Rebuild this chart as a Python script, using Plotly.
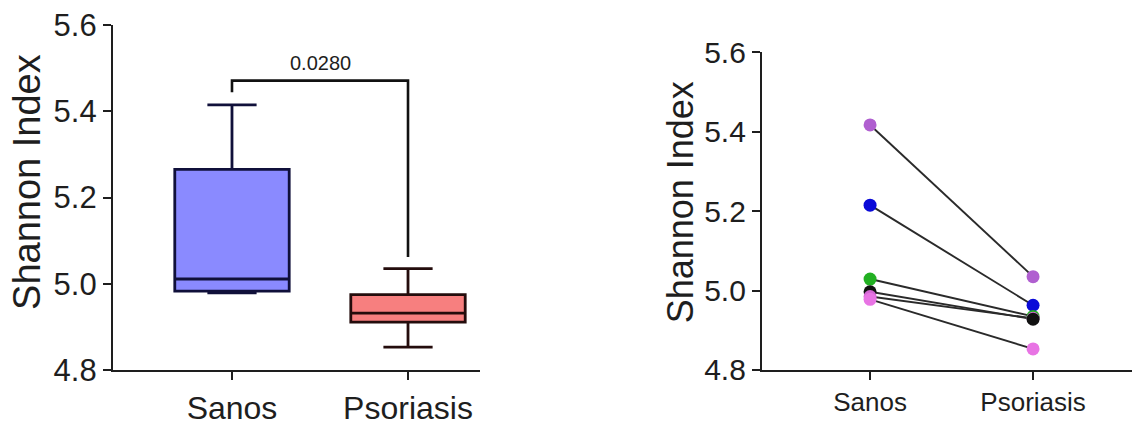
import plotly.graph_objects as go

# ---------------- data ----------------
groups = ["Sanos", "Psoriasis"]

# Box statistics
box_q1 = [4.983, 4.911]
box_median = [5.011, 4.932]
box_q3 = [5.265, 4.975]
box_lower = [4.979, 4.853]
box_upper = [5.415, 5.035]
box_fill = ["#8A8AFF", "#F77F7F"]
box_edge = ["#10103A", "#240C0C"]

# significance bracket
p_text = "0.0280"
bracket_y = [5.444, 5.471, 5.471, 5.062]

# Paired values (right panel)
subjects = ["purple", "blue", "green", "black", "pink", "magenta"]
subject_colors = ["#B05FD0", "#0A0AD8", "#22B022", "#111111", "#D468D4", "#E874E4"]
sanos_vals = [5.417, 5.215, 5.029, 4.997, 4.985, 4.978]
psor_vals = [5.035, 4.963, 4.935, 4.928, 4.930, 4.853]

y_ticks = [4.8, 5.0, 5.2, 5.4, 5.6]
y_title = "Shannon Index"

FONT = "Liberation Sans, Arial, sans-serif"
AX = "#1E1E1E"

fig = go.Figure()

# ---------------- left panel: boxes ----------------
for i, g in enumerate(groups):
    fig.add_trace(go.Box(
        x=[g], q1=[box_q1[i]], median=[box_median[i]], q3=[box_q3[i]],
        lowerfence=[box_lower[i]], upperfence=[box_upper[i]],
        fillcolor=box_fill[i], line=dict(color=box_edge[i], width=2.8),
        width=0.65, whiskerwidth=0.43, boxpoints=False,
        xaxis="x", yaxis="y", showlegend=False, hoverinfo="skip",
    ))

fig.add_trace(go.Scatter(
    x=[groups[0], groups[0], groups[1], groups[1]], y=bracket_y,
    mode="lines", line=dict(color="#111111", width=2.6),
    xaxis="x", yaxis="y", showlegend=False, hoverinfo="skip",
))

# ---------------- right panel: paired points ----------------
for i, s in enumerate(subjects):
    fig.add_trace(go.Scatter(
        x=groups, y=[sanos_vals[i], psor_vals[i]], mode="lines",
        line=dict(color="#2A2A2A", width=1.9),
        xaxis="x2", yaxis="y2", showlegend=False, hoverinfo="skip",
    ))

# markers: Sanos column drawn in subject order, Psoriasis with black on top
order_s = [0, 1, 2, 3, 4, 5]
order_p = [0, 1, 2, 4, 5, 3]
fig.add_trace(go.Scatter(
    x=[groups[0]] * len(order_s), y=[sanos_vals[k] for k in order_s],
    mode="markers", marker=dict(size=13, color=[subject_colors[k] for k in order_s]),
    xaxis="x2", yaxis="y2", showlegend=False, hoverinfo="skip",
))
fig.add_trace(go.Scatter(
    x=[groups[1]] * len(order_p), y=[psor_vals[k] for k in order_p],
    mode="markers", marker=dict(size=13, color=[subject_colors[k] for k in order_p]),
    xaxis="x2", yaxis="y2", showlegend=False, hoverinfo="skip",
))

axis_common = dict(showline=True, linecolor=AX, linewidth=2.2, ticks="outside",
                   ticklen=8, tickwidth=2.2, tickcolor=AX, showgrid=False,
                   zeroline=False, mirror=False)

h_area = 426 - 25 - 47

fig.update_layout(
    width=1132, height=426,
    margin=dict(l=0, r=0, t=25, b=47),
    paper_bgcolor="white", plot_bgcolor="white",
    font=dict(family=FONT, color=AX),
    xaxis=dict(domain=[113 / 1132, 480 / 1132], type="category",
               categoryorder="array", categoryarray=groups,
               range=[-0.676, 1.409], anchor="y",
               tickfont=dict(size=32, family=FONT, color=AX), **axis_common),
    yaxis=dict(domain=[0, 1], range=[4.8, 5.6], tickvals=y_ticks,
               tickformat=".1f", anchor="x",
               tickfont=dict(size=31, family=FONT, color=AX), **axis_common),
    xaxis2=dict(domain=[762 / 1132, 1.0], type="category",
                categoryorder="array", categoryarray=groups,
                range=[-0.663, 1.607], anchor="y2",
                tickfont=dict(size=26, family=FONT, color=AX), **axis_common),
    yaxis2=dict(domain=[0, 0.921], range=[4.8, 5.6], tickvals=y_ticks,
                tickformat=".1f", anchor="x2",
                tickfont=dict(size=30, family=FONT, color=AX), **axis_common),
    annotations=[
        dict(text=p_text, x=0.5, y=5.512, xref="x", yref="y", showarrow=False,
             font=dict(size=20, family=FONT, color=AX), xanchor="center", yanchor="middle"),
        dict(text=y_title, x=27 / 1132, y=(379 - 186) / h_area, xref="paper", yref="paper",
             yanchor="middle", xanchor="center", textangle=-90, showarrow=False,
             font=dict(size=38, family=FONT, color=AX)),
        dict(text=y_title, x=680 / 1132, y=(379 - 207) / h_area, xref="paper", yref="paper",
             yanchor="middle", xanchor="center", textangle=-90, showarrow=False,
             font=dict(size=36, family=FONT, color=AX)),
    ],
)

fig.write_html("out.html")
